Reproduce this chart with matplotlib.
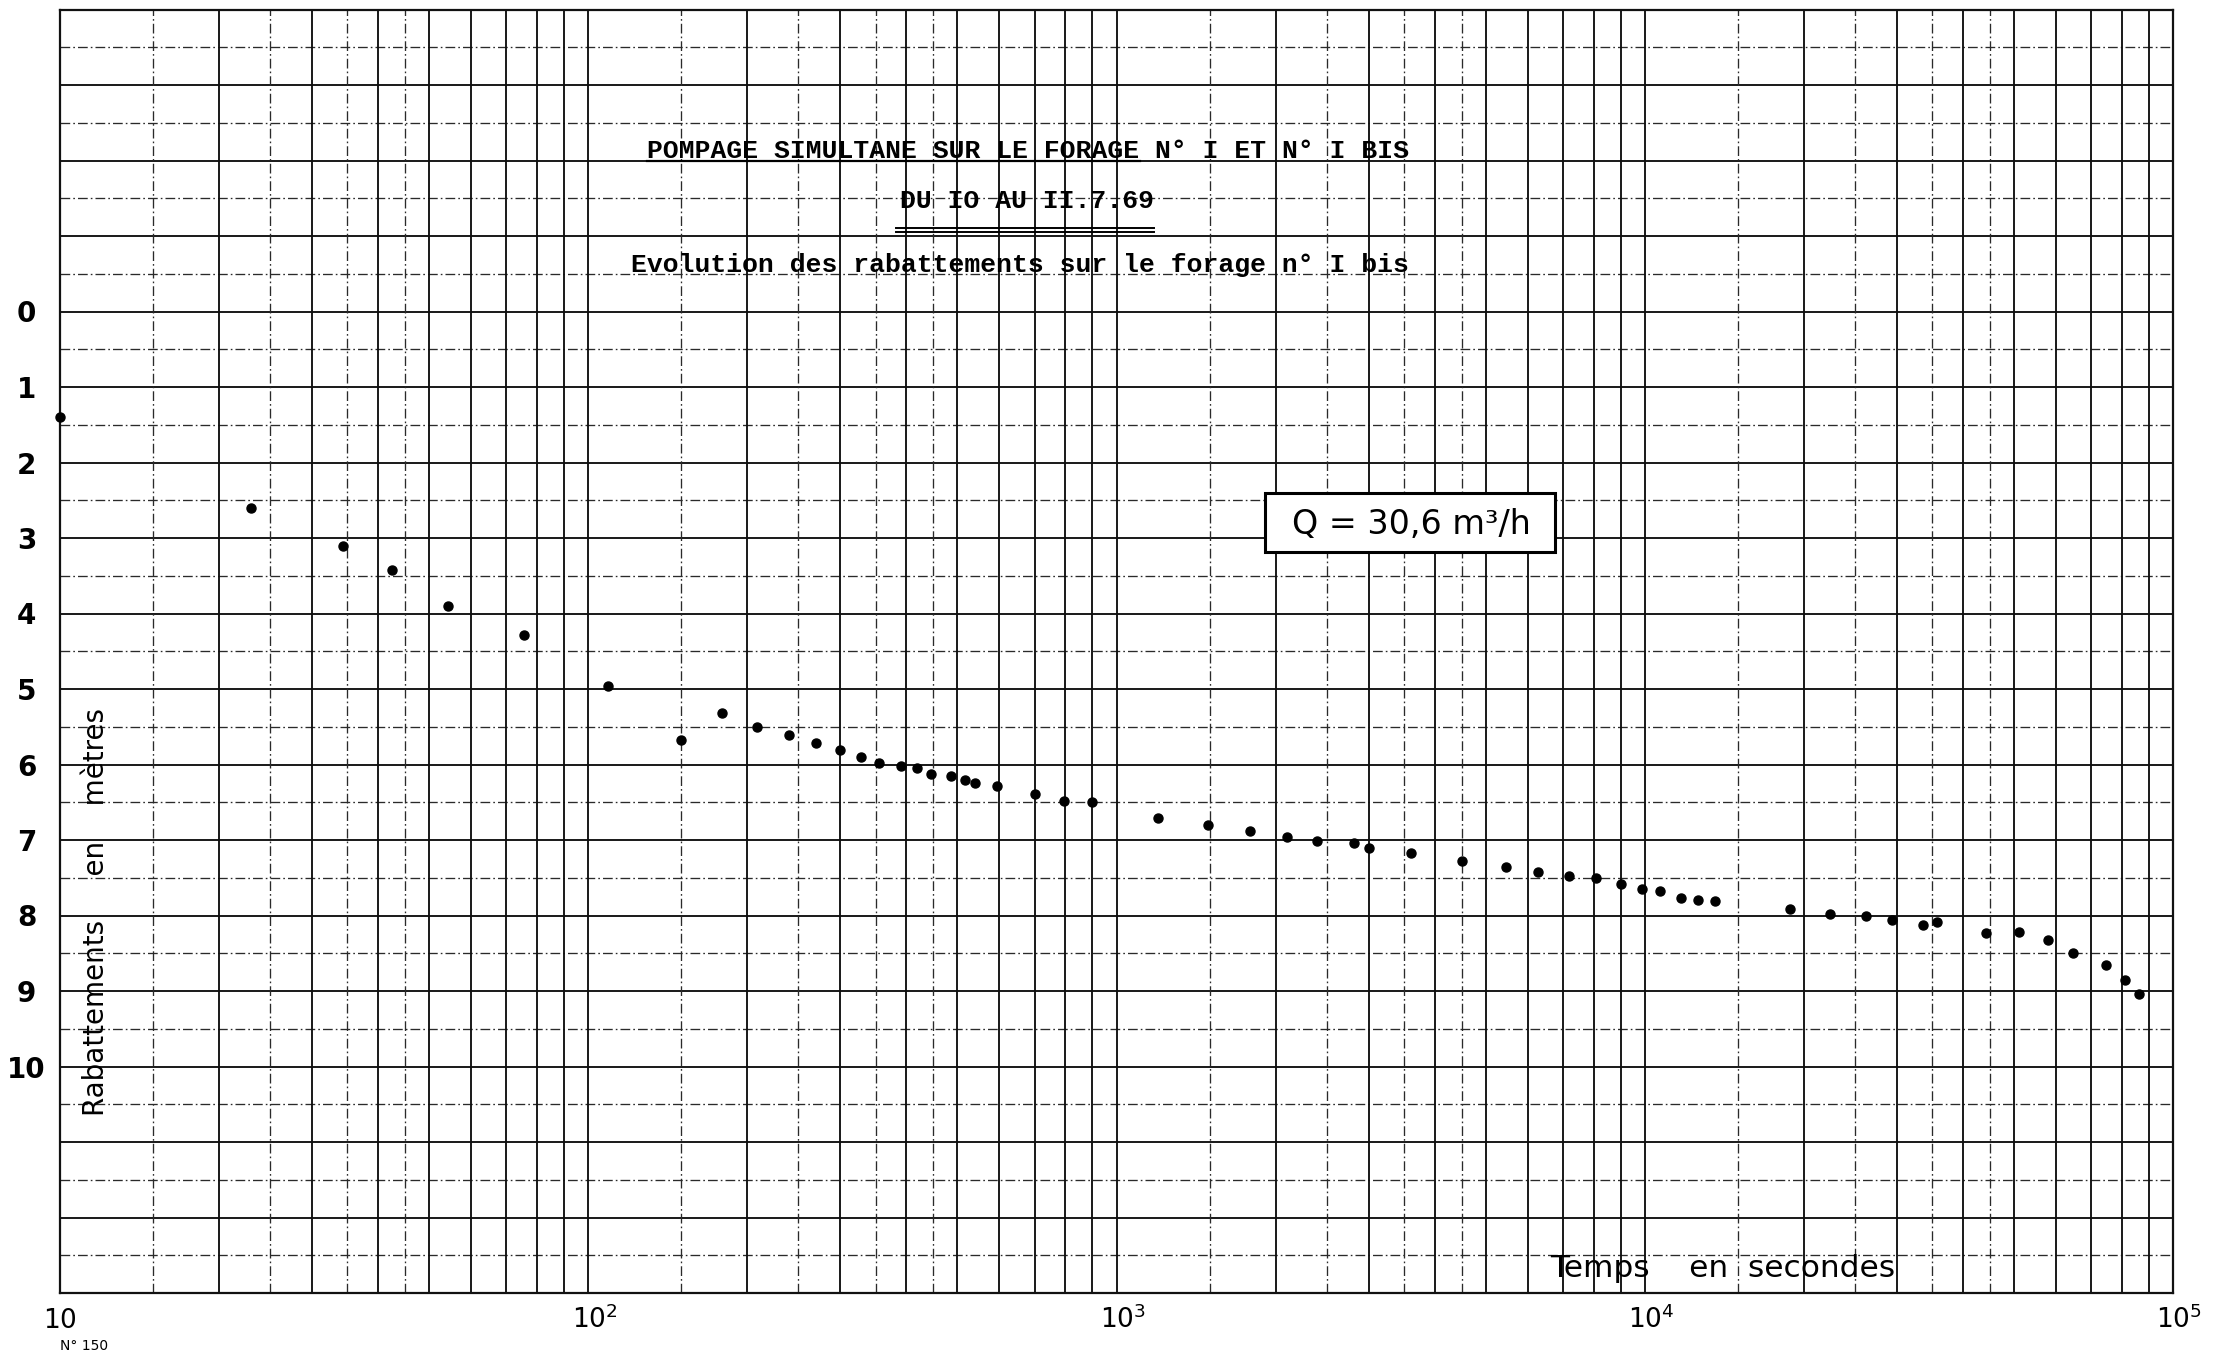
import matplotlib
matplotlib.use("Agg")
import matplotlib.pyplot as plt
import matplotlib.transforms as mtransforms
from matplotlib.patches import Rectangle
from matplotlib.lines import Line2D

# ---------------- data ----------------
time_s = [10, 23, 34.3, 42.6, 54.3, 75.6, 109,
          150, 179, 209, 240, 270, 300, 328, 355, 391, 420,
          446, 486, 516, 539, 594, 700, 796, 900,
          1200, 1490, 1790, 2100, 2400, 2810, 3000, 3610, 4500, 5450,
          6270, 7200, 8080, 9000, 9900, 10700, 11700, 12600, 13600,
          18800, 22400, 26200, 29400, 33700, 35800, 44200, 51100, 57900, 64800,
          74700, 81100, 86200]
drawdown_m = [1.40, 2.60, 3.10, 3.42, 3.90, 4.28, 4.96,
              5.68, 5.32, 5.50, 5.61, 5.72, 5.81, 5.90, 5.98, 6.02, 6.05,
              6.13, 6.15, 6.20, 6.24, 6.28, 6.39, 6.49, 6.50,
              6.71, 6.80, 6.88, 6.96, 7.01, 7.04, 7.10, 7.17, 7.28, 7.36,
              7.42, 7.48, 7.50, 7.58, 7.65, 7.68, 7.77, 7.79, 7.81,
              7.92, 7.98, 8.00, 8.06, 8.13, 8.08, 8.23, 8.22, 8.32, 8.50,
              8.66, 8.85, 9.04]

xtick_values = [10, 100, 1000, 10000, 100000]
xtick_labels = ["$10$", "$10^2$", "$10^3$", "$10^4$", "$10^5$"]
ytick_values = [0, 1, 2, 3, 4, 5, 6, 7, 8, 9, 10]
ytick_labels = [str(v) for v in ytick_values]

title_1 = "POMPAGE SIMULTANE SUR LE FORAGE N° I ET N° I BIS"
title_2 = "DU IO AU II.7.69"
title_3 = "Evolution des rabattements sur le forage n° I bis"
box_text = "Q = 30,6 m³/h"
xlabel_text = "Temps    en  secondes"
ylabel_text = "Rabattements     en    mètres"
paper_ref = "N° 150"

# ---------------- figure ----------------
W, H = 2215, 1354
plt.rcParams['font.family'] = ['DejaVu Sans']
plt.rcParams['mathtext.fontset'] = 'dejavusans'
plt.rcParams['lines.scale_dashes'] = False
fig = plt.figure(figsize=(W / 100, H / 100), dpi=100)
fig.patch.set_facecolor('white')


def fx(px):
    return px / W


def fy(py):
    return 1 - py / H


ax_left, ax_right, ax_top, ax_bottom = 60, 2173, 9.5, 1293
ax = fig.add_axes([fx(ax_left), fy(ax_bottom), fx(ax_right - ax_left), (ax_bottom - ax_top) / H])
ax.set_xscale('log')
ax.set_xlim(10, 1e5)
ax.set_ylim(13, -4)

# ---- graph-paper grid ----
solid_kw = dict(color='#101010', lw=1.35, zorder=1)
dash_kw = dict(color='#2a2a2a', lw=0.95, ls=(0, (7, 2.2, 1.2, 2.2)), zorder=1)
for v in range(-4, 14):
    ax.axhline(v, **solid_kw)
    if v < 13:
        ax.axhline(v + 0.5, **dash_kw)
for k in range(1, 5):
    dec = 10 ** k
    for m in range(1, 10):
        ax.axvline(m * dec, **solid_kw)
    for m in (1.5, 2.5, 3.5, 4.5):
        ax.axvline(m * dec, **dash_kw)

for s in ax.spines.values():
    s.set_linewidth(1.6)
    s.set_color('#111111')

# ---- data ----
ax.plot(time_s, drawdown_m, 'o', color='black', ms=6.5, mec='black',
        clip_on=False, zorder=5)

# ---- ticks ----
ax.set_xticks([])
ax.set_xticks([], minor=True)
ax.set_yticks(ytick_values, labels=ytick_labels)
ax.set_yticks([], minor=True)
ax.tick_params(axis='y', length=0, pad=24, labelsize=20)
for t in ax.get_yticklabels():
    t.set_ha('center')
    t.set_fontweight('bold')

xlab_trans = mtransforms.offset_copy(ax.get_xaxis_transform(), fig=fig,
                                     x=-12, y=-25, units='points')
for xv, lab in zip(xtick_values, xtick_labels):
    ax.text(xv, 0, lab, transform=xlab_trans, ha='left', va='baseline',
            fontsize=19, clip_on=False)

# ---- axis texts inside the grid ----
fig.text(fx(1550), fy(1277), xlabel_text, fontsize=22.5, ha='left', va='baseline')
fig.text(fx(104), fy(912), ylabel_text, fontsize=20, rotation=90,
         ha='center', va='baseline', rotation_mode='anchor')

# ---- titles ----
mono = dict(family='Liberation Mono', fontweight='bold', fontsize=19)
fig.text(fx(1409), fy(158), title_1, ha='right', va='baseline', **mono)
fig.text(fx(1027), fy(208), title_2, ha='center', va='baseline', **mono)
fig.text(fx(1409), fy(272), title_3, ha='right', va='baseline', **mono)
fig.add_artist(Line2D([fx(647), fx(1140)], [fy(161), fy(161)], color='black', lw=1.6))
fig.add_artist(Line2D([fx(896), fx(1154)], [fy(228), fy(228)], color='black', lw=1.4))
fig.add_artist(Line2D([fx(896), fx(1154)], [fy(232), fy(232)], color='black', lw=1.4))

# ---- discharge box ----
fig.add_artist(Rectangle((fx(1265), fy(552)), fx(1555 - 1265), (552 - 493) / H,
                         fill=True, facecolor='white', edgecolor='black', lw=2.2,
                         zorder=6))
fig.text(fx(1411), fy(525), box_text, ha='center', va='center', fontsize=24, zorder=7)

# ---- paper reference ----
fig.text(fx(60), fy(1350), paper_ref, fontsize=10, ha='left', va='baseline')

fig.savefig('out.png', dpi=100, facecolor='white')
